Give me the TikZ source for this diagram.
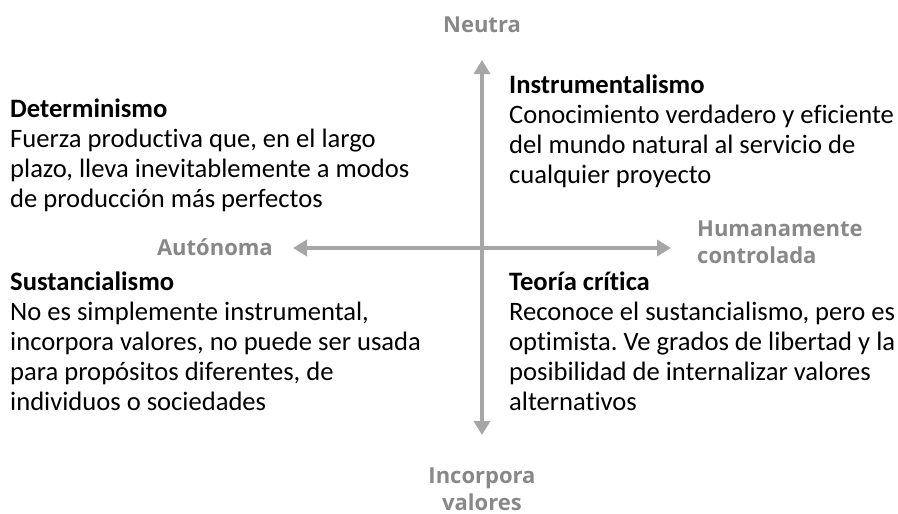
\documentclass[tikz,border=0pt]{standalone}
\usepackage{fontspec}
\setmainfont{Carlito}[Ligatures=NoCommon]
\newfontfamily\axisfont{Open Sans}
\usetikzlibrary{arrows.meta}
\frenchspacing
\definecolor{axiscol}{HTML}{A6A6A6}
\definecolor{axistext}{HTML}{888888}
\tikzset{
  body/.style={anchor=base west, inner sep=0pt, align=left, font=\fontsize{26.6}{30}\selectfont, text=black},
  axlabel/.style={inner sep=0pt, align=center, font=\axisfont\bfseries\fontsize{22}{27}\selectfont, text=axistext},
  axarrow/.style={draw=axiscol, line width=4.5pt, {Triangle[width=16pt,length=14pt]}-{Triangle[width=16pt,length=14pt]}}
}
\begin{document}
\begin{tikzpicture}[x=1pt,y=-1pt]
\useasboundingbox (0,0) rectangle (898,514);
% axes
\coordinate (top) at (482,60);
\coordinate (bot) at (482,435);
\coordinate (lft) at (293,248);
\coordinate (rgt) at (671,248);
\draw[axarrow] (top) -- (bot);
\draw[axarrow] (lft) -- (rgt);
% axis labels (base anchor = baseline of the last line)
\node[axlabel, anchor=base] (neutra) at (482,32) {Neutra};
\node[axlabel, anchor=base east] (auto) at (273,255) {Autónoma};
\node[axlabel, anchor=base west, align=left] (hum) at (697,263) {Humanamente\\controlada};
\node[axlabel, anchor=base] (inc) at (482,510) {Incorpora\\valores};
% quadrant texts
\node[body] (det) at (10,207) {\textbf{Determinismo}\\Fuerza productiva que, en el largo\\plazo, lleva inevitablemente a modos\\de producción más perfectos};
\node[body] (ins) at (509,183) {\textbf{Instrumentalismo}\\Conocimiento verdadero y eficiente\\del mundo natural al servicio de\\cualquier proyecto};
\node[body] (sus) at (10,410) {\textbf{Sustancialismo}\\No es simplemente instrumental,\\incorpora valores, no puede ser usada\\para propósitos diferentes, de\\individuos o sociedades};
\node[body] (teo) at (509,410) {\textbf{Teoría crítica}\\Reconoce el sustancialismo, pero es\\optimista. Ve grados de libertad y la\\posibilidad de internalizar valores\\alternativos};
\end{tikzpicture}
\end{document}
